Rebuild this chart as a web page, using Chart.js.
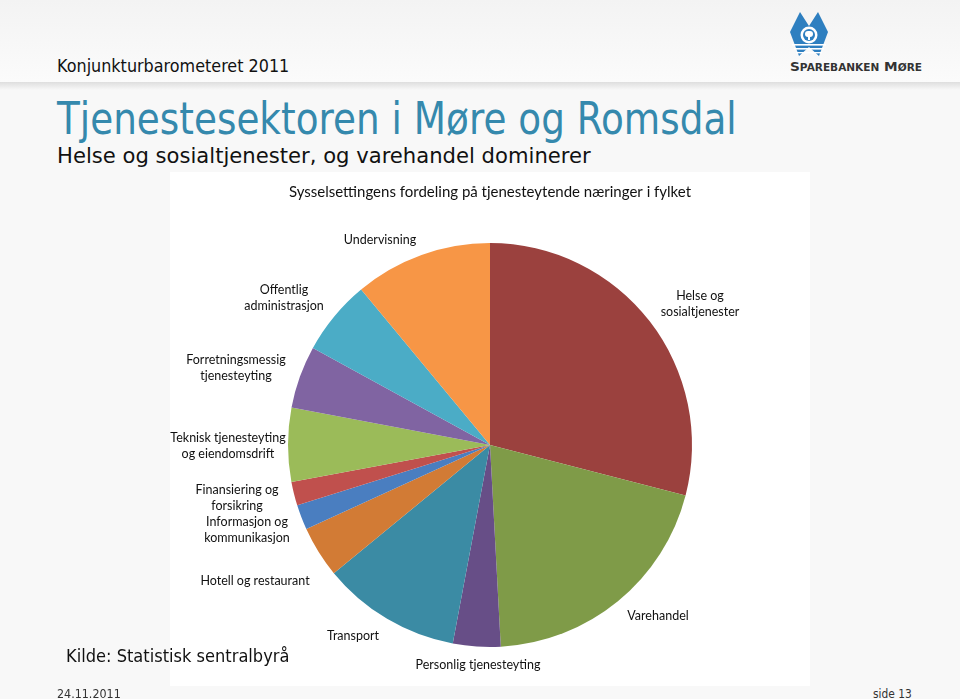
<!DOCTYPE html>
<html>
<head>
<meta charset="utf-8">
<script src="https://cdn.jsdelivr.net/npm/chart.js@4"></script>
<style>
  html, body { margin: 0; padding: 0; }
  body { width: 960px; height: 699px; position: relative; overflow: hidden;
         background: #f8f8f8; font-family: "DejaVu Sans", Verdana, sans-serif; }
  .header { position: absolute; left: 0; top: 0; width: 960px; height: 82px;
            background: linear-gradient(#f3f3f3, #fbfbfb); }
  .divider { position: absolute; left: 0; top: 82px; width: 960px; height: 8px;
             background: linear-gradient(#dedede, #f8f8f8); }
  .txt { position: absolute; white-space: nowrap; transform-origin: 0 0; line-height: 1; }
  #box { position: absolute; left: 170px; top: 172px; width: 640px; height: 514px; background: #fff; }
</style>
</head>
<body>
<div class="header"></div>
<div class="divider"></div>

<div class="txt" data-w="232" style="left:57px; top:57px; font-size:18px; color:#111;">Konjunkturbarometeret 2011</div>
<div class="txt" data-w="680" style="left:57px; top:97px; font-size:44px; color:#3589ad;">Tjenestesektoren i Møre og Romsdal</div>
<div class="txt" data-w="534" style="left:57px; top:145px; font-size:22px; color:#111;">Helse og sosialtjenester, og varehandel dominerer</div>

<svg style="position:absolute; left:786px; top:10px;" width="140" height="66" viewBox="0 0 140 66">
  <polygon points="4,22 14,2 23,16 32,2 42,22 33,46 23,37 13,46" fill="#2e7fc0"/>
  <circle cx="23" cy="25" r="8.5" fill="#fff"/>
  <circle cx="23" cy="25" r="6" fill="#2e7fc0"/>
  <rect x="19" y="21" width="8" height="6" rx="3" fill="#fff"/>
  <rect x="22" y="25" width="2" height="5" fill="#fff"/>
  <rect x="6" y="34" width="34" height="1.6" fill="#fff"/>
  <rect x="8" y="38" width="30" height="1.6" fill="#fff"/>
  <rect x="10" y="42" width="26" height="1.4" fill="#fff"/>
  <text x="4" y="61" font-family="DejaVu Sans" font-weight="bold" font-size="13" fill="#333" textLength="132" lengthAdjust="spacingAndGlyphs">S<tspan font-size="10">PAREBANKEN</tspan> M<tspan font-size="10">ØRE</tspan></text>
</svg>

<div id="box"><canvas id="pie" width="640" height="514"></canvas></div>

<div class="txt" data-w="223" style="left:66px; top:647px; font-size:18px; color:#111;">Kilde: Statistisk sentralbyrå</div>
<div class="txt" data-w="64" style="left:57px; top:688px; font-size:12px; color:#333;">24.11.2011</div>
<div class="txt" data-w="39" style="left:873px; top:688px; font-size:12px; color:#333;">side 13</div>

<script>
var sectors = ["Helse og sosialtjenester", "Varehandel", "Personlig tjenesteyting", "Transport", "Hotell og restaurant", "Informasjon og kommunikasjon", "Finansiering og forsikring", "Teknisk tjenesteyting og eiendomsdrift", "Forretningsmessig tjenesteyting", "Offentlig administrasjon", "Undervisning"];
var shares = [29.0, 20.1, 3.8, 11.1, 4.1, 2.0, 1.9, 5.9, 5.0, 6.0, 11.0];
var colors = ['#9b413e', '#7f9b48', '#674e87', '#3b8ba4', '#d27b35', '#4a7ec0', '#c0504d', '#9bbb59', '#8064a2', '#4bacc6', '#f79646'];

// squeeze the slide texts to the widths they have on the slide
document.querySelectorAll('.txt').forEach(function(el) {
	var w = parseFloat(el.getAttribute('data-w'));
	el.style.transform = 'scaleX(' + (w / el.scrollWidth) + ')';
});

// label lines and where they sit, relative to the pie centre
var labelLines = [["Helse og", "sosialtjenester"], ["Varehandel"], ["Personlig tjenesteyting"], ["Transport"], ["Hotell og restaurant"], ["Informasjon og", "kommunikasjon"], ["Finansiering og", "forsikring"], ["Teknisk tjenesteyting", "og eiendomsdrift"], ["Forretningsmessig", "tjenesteyting"], ["Offentlig", "administrasjon"], ["Undervisning"]];
var labelPos = [[210, -141], [168, 171], [-12, 220], [-137, 191], [-235, 136], [-243, 85], [-253, 53], [-262, 1], [-254, -77], [-206, -147], [-110, -205]];

var sliceLabels = {
	id: 'sliceLabels',
	afterDatasetsDraw: function(chart) {
		var ctx = chart.ctx;
		var arc = chart.getDatasetMeta(0).data[0];
		ctx.save();
		ctx.font = '12.5px Lato, "Open Sans", sans-serif';
		ctx.fillStyle = '#111';
		ctx.textAlign = 'center';
		ctx.textBaseline = 'middle';
		labelLines.forEach(function(lines, i) {
			var x = arc.x + labelPos[i][0];
			var y = arc.y + labelPos[i][1] - (lines.length - 1) * 8;
			lines.forEach(function(l, j) {
				ctx.fillText(l, x, y + j * 16);
			});
		});
		ctx.restore();
	}
};

var ctx = document.getElementById('pie').getContext('2d');
var chart = new Chart(ctx, {
	type: 'pie',
	data: {
		labels: sectors,
		datasets: [{
			data: shares,
			backgroundColor: colors,
			borderWidth: 0
		}]
	},
	options: {
		responsive: false,
		animation: false,
		layout: { padding: { left: 118, right: 118, top: 0, bottom: 39 } },
		plugins: {
			legend: { display: false },
			tooltip: { enabled: false },
			title: {
				display: true,
				text: 'Sysselsettingens fordeling på tjenesteytende næringer i fylket',
				color: '#111',
				font: { family: 'Lato, "Open Sans", sans-serif', size: 15, weight: 'normal' },
				padding: { top: 11, bottom: 42 }
			}
		}
	},
	plugins: [sliceLabels]
});
</script>
</body>
</html>
